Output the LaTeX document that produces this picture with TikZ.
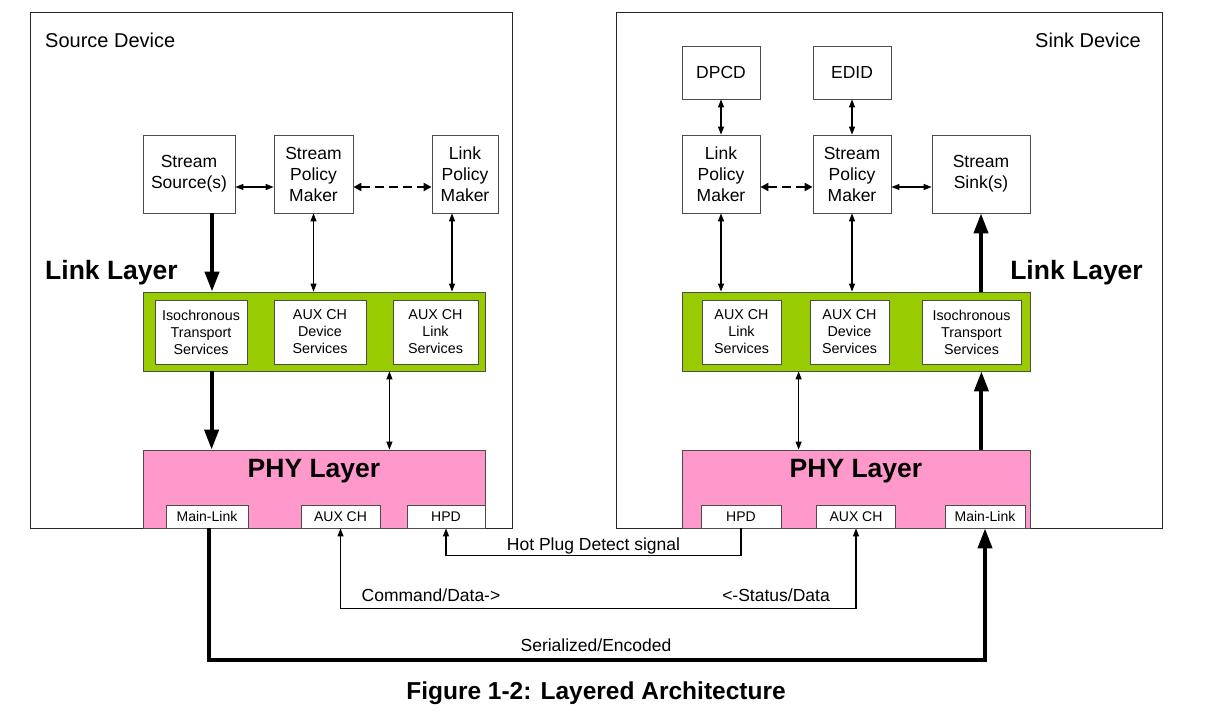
\documentclass[tikz,border=0pt]{standalone}
\usepackage{fontspec}
\setmainfont{Liberation Sans}
\usetikzlibrary{arrows.meta, calc}
\definecolor{linkgreen}{RGB}{153,204,0}
\definecolor{phypink}{RGB}{255,153,204}

\begin{document}
\begin{tikzpicture}[x = 1pt, y = -1pt,
		device/.style = {draw = black!85, line width = 0.8pt, inner sep = 0pt, minimum height = 516pt},
		box/.style = {draw = black!70, fill = white, line width = 0.8pt, align = center, inner sep = 0pt, minimum height = 78pt, font = \fontsize{17.5}{21}\selectfont},
		store/.style = {box, minimum width = 78pt, minimum height = 53pt},
		svc/.style = {draw = black!70, fill = white, line width = 0.8pt, align = center, inner sep = 0pt, minimum height = 64pt, font = \fontsize{14.3}{17}\selectfont},
		port/.style = {draw = black!70, fill = white, line width = 0.8pt, inner sep = 0pt, minimum height = 23pt, font = \fontsize{14}{16}\selectfont},
		layer/.style = {draw = black!70, line width = 0.8pt, inner sep = 0pt, minimum height = 79pt},
		title/.style = {font = \bfseries\fontsize{26.5}{30}\selectfont},
		label/.style = {font = \fontsize{17.5}{20}\selectfont, inner sep = 1pt},
		sig/.style = {line width = 1.1pt, {Triangle[length = 8pt, width = 6pt]}-{Triangle[length = 8pt, width = 6pt]}},
		policy/.style = {line width = 2pt, dash pattern = on 9pt off 5pt, {Triangle[length = 8pt, width = 8pt]}-{Triangle[length = 8pt, width = 8pt]}},
		mainflow/.style = {line width = 4pt, -{Triangle[length = 20pt, width = 14pt]}}]
	\useasboundingbox (0,0) rectangle (1209,714);
	\begin{scope}
		\node [device, minimum width = 482pt] (src) at (271,270) {};
		\node [device, minimum width = 546pt] (snk) at (889,270) {};
		\node [font = \fontsize{20}{24}\selectfont, anchor = west, inner sep = 0pt] (srcname) at (45,40) {Source Device};
		\node [font = \fontsize{20}{24}\selectfont, anchor = east, inner sep = 0pt] (snkname) at (1141,40) {Sink Device};
	\end{scope}
	\begin{scope}
		\node [box, minimum width = 92pt] (ssrc) at (189,174) {Stream\\Source(s)};
		\node [box, minimum width = 79pt] (spmL) at (313.5,174) {Stream\\Policy\\Maker};
		\node [box, minimum width = 66pt] (lpmL) at (465,174) {Link\\Policy\\Maker};
		\node [title, anchor = west, inner sep = 0pt] (linkL) at (45,273) {Link Layer};
		\node [layer, fill = linkgreen, minimum width = 342pt] (greenL) at (314,331.5) {};
		\node [svc, minimum width = 92pt] (isoL) at (201,332) {Isochronous\\Transport\\Services};
		\node [svc, minimum width = 92pt] (auxdevL) at (320,332) {AUX CH\\Device\\Services};
		\node [svc, minimum width = 85pt] (auxlinkL) at (435.5,332) {AUX CH\\Link\\Services};
		\node [layer, fill = phypink, minimum width = 342pt, minimum height = 78pt] (phyL) at (314,489) {};
		\node [title] (phynameL) at (314,471) {PHY Layer};
		\node [port, minimum width = 82pt] (mainL) at (207,516.5) {Main-Link};
		\node [port, minimum width = 79pt] (auxL) at (340.5,516.5) {AUX CH};
		\node [port, minimum width = 78pt] (hpdL) at (446,516.5) {HPD};
	\end{scope}
	\begin{scope}
		\node [store] (dpcd) at (721,72.5) {DPCD};
		\node [store] (edid) at (852,72.5) {EDID};
		\node [box, minimum width = 78pt] (lpmR) at (721,174) {Link\\Policy\\Maker};
		\node [box, minimum width = 78pt] (spmR) at (852,174) {Stream\\Policy\\Maker};
		\node [box, minimum width = 98pt] (sink) at (981,174) {Stream\\Sink(s)};
		\node [title, anchor = east, inner sep = 0pt] (linkR) at (1143,273) {Link Layer};
		\node [layer, fill = linkgreen, minimum width = 348pt] (greenR) at (856,331.5) {};
		\node [svc, minimum width = 79pt] (auxlinkR) at (741.5,332) {AUX CH\\Link\\Services};
		\node [svc, minimum width = 79pt] (auxdevR) at (849.5,332) {AUX CH\\Device\\Services};
		\node [svc, minimum width = 99pt] (isoR) at (971.5,332) {Isochronous\\Transport\\Services};
		\node [layer, fill = phypink, minimum width = 348pt, minimum height = 78pt] (phyR) at (856,489) {};
		\node [title] (phynameR) at (856,471) {PHY Layer};
		\node [port, minimum width = 80pt] (hpdR) at (741,516.5) {HPD};
		\node [port, minimum width = 79pt] (auxR) at (856,516.5) {AUX CH};
		\node [port, minimum width = 80pt] (mainR) at (985,516.5) {Main-Link};
	\end{scope}
	\begin{scope}
		\draw [sig] ([yshift = -13pt]ssrc.east) -- ([yshift = -13pt]spmL.west);
		\draw [policy] ([yshift = -13pt]spmL.east) -- ([yshift = -13pt]lpmL.west);
		\draw [mainflow] ([xshift = 23pt]ssrc.south) -- ([xshift = 23pt]ssrc.south |- greenL.north);
		\draw [sig] (spmL.south) -- (spmL.south |- greenL.north);
		\draw [sig] ([xshift = -13pt]lpmL.south) -- ([xshift = -13pt]lpmL.south |- greenL.north);
		\draw [mainflow] ([xshift = 69pt]greenL.south west) -- ([xshift = 69pt]phyL.north west);
		\draw [sig] ([xshift = -96pt]greenL.south east) -- ([xshift = -96pt]phyL.north east);
	\end{scope}
	\begin{scope}
		\draw [sig] (dpcd.south) -- (lpmR.north);
		\draw [sig] (edid.south) -- (spmR.north);
		\draw [policy] ([yshift = -13pt]lpmR.east) -- ([yshift = -13pt]spmR.west);
		\draw [sig] ([yshift = -13pt]spmR.east) -- ([yshift = -13pt]sink.west);
		\draw [sig] (lpmR.south) -- (lpmR.south |- greenR.north);
		\draw [sig] (spmR.south) -- (spmR.south |- greenR.north);
		\draw [mainflow] (sink.south |- greenR.north) -- (sink.south);
		\draw [sig] ([xshift = 117pt]greenR.south west) -- ([xshift = 117pt]phyR.north west);
		\draw [mainflow] ([xshift = -49pt]phyR.north east) -- ([xshift = -49pt]greenR.south east);
	\end{scope}
	\begin{scope}
		\draw [line width = 1.1pt, -{Triangle[length = 8pt, width = 6pt]}] (hpdR.south) -- ++(0,27) -- node [label, above] {Hot Plug Detect signal} ($(hpdL.south) + (0,27)$) -- (hpdL.south);
		\draw [sig] (auxL.south) -- ++(0,80) -| (auxR.south);
		\node [label] (cmd) at (431,595) {Command/Data->};
		\node [label] (sts) at (776,595) {<-Status/Data};
		\draw [mainflow] ([xshift = 2pt]mainL.south) -- ++(0,132) -| (mainR.south);
		\node [label] (serial) at (596,645) {Serialized/Encoded};
		\node [font = \bfseries\fontsize{24.5}{28}\selectfont] (caption) at (596,693) {Figure 1-2: Layered Architecture};
	\end{scope}
\end{tikzpicture}
\end{document}
